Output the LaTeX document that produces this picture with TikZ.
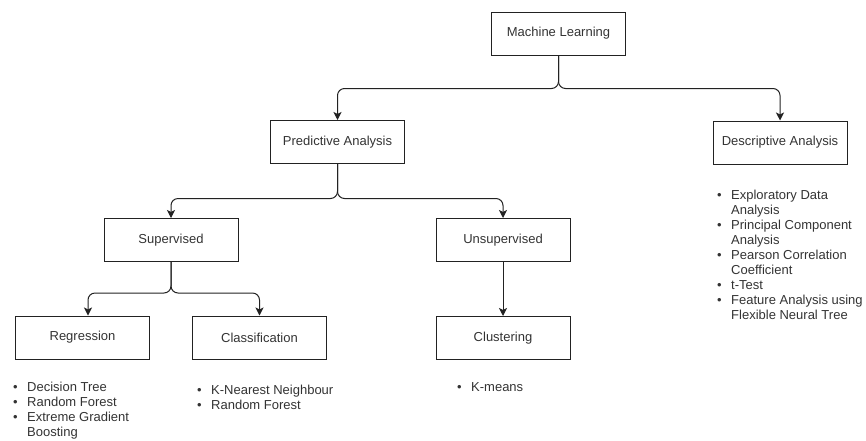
\documentclass[tikz,border=0pt]{standalone}
\usepackage{fontspec}
\setmainfont{Liberation Sans}
\usetikzlibrary{arrows.meta}
\definecolor{txt}{HTML}{333333}
\definecolor{ln}{HTML}{222222}
\newcommand{\bul}{\makebox[14pt][l]{\textbullet}}
\newcommand{\nob}{\makebox[14pt][l]{}}
\begin{document}
\begin{tikzpicture}[x=1pt,y=-1pt,
  box/.style={draw=ln, line width=1pt, minimum width=134pt, minimum height=43pt, inner sep=0pt,
    text=txt, font=\fontsize{13}{15}\selectfont},
  edge/.style={draw=ln, line width=1pt, rounded corners=7pt,
    -{Stealth[length=8pt,width=8pt,inset=2pt]}},
  blist/.style={anchor=base west, inner sep=0pt, text=txt, font=\fontsize{13}{15}\selectfont}]
\useasboundingbox (0,0) rectangle (866,440);

\node[box] (ml) at (558.5,33.5) {Machine Learning};
\node[box] (pa) at (337.5,142) {Predictive Analysis};
\node[box] (da) at (780,142.5) {Descriptive Analysis};
\node[box] (sup) at (171,240) {Supervised};
\node[box] (uns) at (503,240) {Unsupervised};
\node[box] (reg) at (82.5,337.5) {Regression};
\node[box] (cls) at (259.5,337.5) {Classification};
\node[box] (clu) at (503,338) {Clustering};

\draw[edge] (ml.south) -- ++(0,33) -| (pa.north);
\draw[edge] (ml.south) -- ++(0,33) -| (da.north);
\draw[edge] (pa.south) -- ++(0,34.5) -| (sup.north);
\draw[edge] (pa.south) -- ++(0,34.5) -| (uns.north);
\draw[edge] (sup.south) -- ++(0,31) -| ([xshift=5.5pt]reg.north);
\draw[edge] (sup.south) -- ++(0,31) -| (cls.north);
\draw[edge] (uns.south) -- (clu.north);

\node[blist] (reglist) at (13,391.7) {\begin{tabular}[t]{@{}l@{}}
\bul Decision Tree\\
\bul Random Forest\\
\bul Extreme Gradient\\
\nob Boosting
\end{tabular}};
\node[blist] (clslist) at (197,394.6) {\begin{tabular}[t]{@{}l@{}}
\bul K-Nearest Neighbour\\
\bul Random Forest
\end{tabular}};
\node[blist] (clulist) at (457,391.6) {\begin{tabular}[t]{@{}l@{}}
\bul K-means
\end{tabular}};
\node[blist] (dalist) at (717,199.6) {\begin{tabular}[t]{@{}l@{}}
\bul Exploratory Data\\
\nob Analysis\\
\bul Principal Component\\
\nob Analysis\\
\bul Pearson Correlation\\
\nob Coefficient\\
\bul t-Test\\
\bul Feature Analysis using\\
\nob Flexible Neural Tree
\end{tabular}};
\end{tikzpicture}
\end{document}
